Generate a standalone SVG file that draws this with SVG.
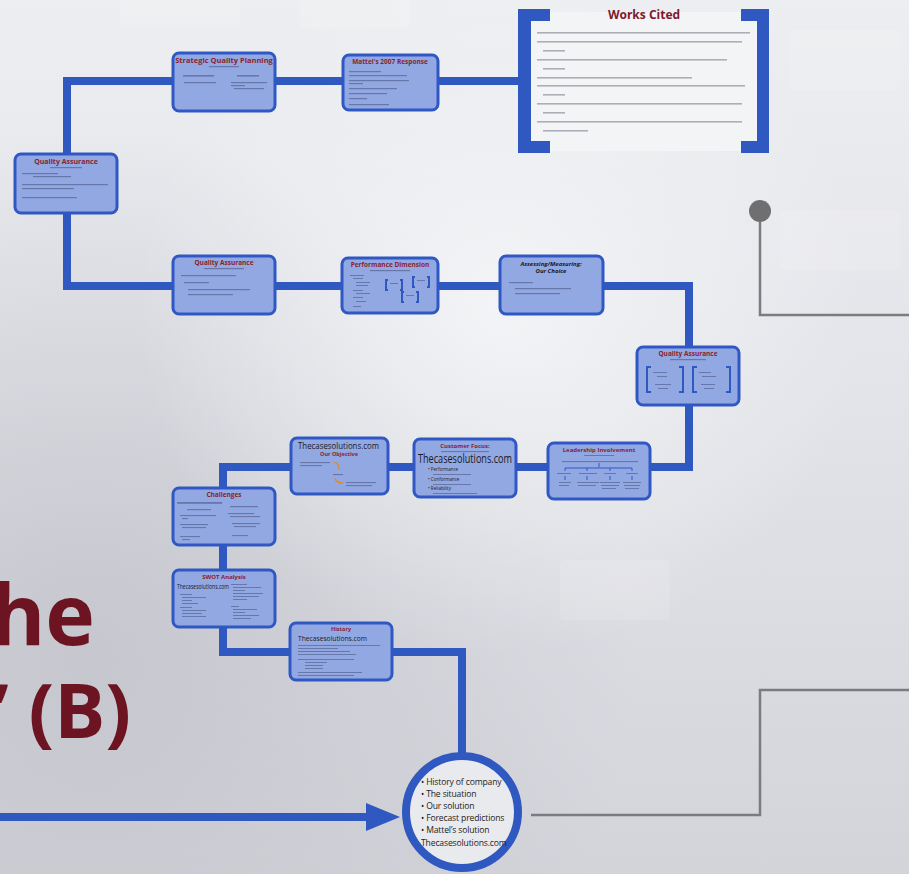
<svg xmlns="http://www.w3.org/2000/svg" width="909" height="874" viewBox="0 0 909 874">
<defs>
<linearGradient id="bg" x1="0" y1="0" x2="0" y2="1">
<stop offset="0" stop-color="#eceef1"/>
<stop offset="0.45" stop-color="#e3e4e9"/>
<stop offset="1" stop-color="#d3d4da"/>
</linearGradient>
<radialGradient id="dark" cx="0.1" cy="0.75" r="0.6">
<stop offset="0" stop-color="#c4c5cc" stop-opacity="0.9"/>
<stop offset="1" stop-color="#c4c5cc" stop-opacity="0"/>
</radialGradient>
<radialGradient id="light" cx="0.55" cy="0.35" r="0.4">
<stop offset="0" stop-color="#f4f5f7" stop-opacity="0.9"/>
<stop offset="1" stop-color="#f4f5f7" stop-opacity="0"/>
</radialGradient>
</defs>
<style>
.node{fill:#92a8e2;stroke:#3058c4;stroke-width:3}
.ttl{font-family:"Open Sans","DejaVu Sans",sans-serif;font-weight:700;fill:#8a1f2e;text-anchor:middle}
.dk{font-family:"Open Sans","DejaVu Sans",sans-serif;fill:#1a1a22}
.b{fill:#3c4670;opacity:0.5}
.path{fill:none;stroke:#2f58c0;stroke-width:8;stroke-linejoin:miter}
.gray{fill:none;stroke:#7c7c80;stroke-width:2.5}
.br{fill:none;stroke:#2f58c0;stroke-width:2}
.big{font-family:"Open Sans","DejaVu Sans",sans-serif;font-weight:700;fill:#6c1422}
.ct{font-family:"Open Sans","DejaVu Sans",sans-serif;font-size:8.6px;letter-spacing:-0.15px;fill:#1c1c24}
.cite{fill:#55586a;opacity:0.45}
</style>
<rect width="909" height="874" fill="url(#bg)"/>
<rect width="909" height="874" fill="url(#dark)"/>
<rect width="909" height="874" fill="url(#light)"/>
<g opacity="0.12" fill="#ffffff">
<rect x="120" y="0" width="120" height="25" rx="4"/>
<rect x="300" y="0" width="110" height="28" rx="4"/>
<rect x="790" y="30" width="110" height="60" rx="4"/>
<rect x="780" y="210" width="120" height="60" rx="4"/>
<rect x="560" y="560" width="110" height="60" rx="4"/>
</g>

<text class="big" x="95" y="645" font-size="84" text-anchor="end">The</text>
<text class="big" x="131" y="738" font-size="76" text-anchor="end">’ (B)</text>

<g id="connectors">
<path class="path" d="M462 756 V652 H223 V467 H689 V286 H67 V81 H524"/>
<line x1="0" y1="817" x2="372" y2="817" stroke="#2f58c0" stroke-width="8"/>
<polygon points="366,803 400,817 366,831" fill="#2f58c0"/>
<path class="gray" d="M531 815 H760 V690 H909"/>
<path class="gray" d="M760 211 V315 H909"/>
<circle cx="760" cy="211" r="11" fill="#6f6f72"/>
</g>

<g id="works-cited">
<rect x="525" y="12" width="238" height="139" fill="#f3f4f6"/>
<path d="M550 9 H518 V153 H550 V141 H531 V21 H550 Z" fill="#2f58c0"/>
<path d="M741 9 H769 V153 H741 V141 H757 V21 H741 Z" fill="#2f58c0"/>
<text x="644" y="19" font-family="Open Sans, DejaVu Sans, sans-serif" font-size="12" font-weight="700" fill="#7d1a2c" text-anchor="middle">Works Cited</text>
<rect class="cite" x="537" y="32" width="213" height="1.6"/>
<rect class="cite" x="537" y="41" width="205" height="1.6"/>
<rect class="cite" x="543" y="50" width="22" height="1.6"/>
<rect class="cite" x="537" y="59" width="190" height="1.6"/>
<rect class="cite" x="543" y="68" width="22" height="1.6"/>
<rect class="cite" x="537" y="77" width="155" height="1.6"/>
<rect class="cite" x="537" y="85" width="208" height="1.6"/>
<rect class="cite" x="543" y="94" width="22" height="1.6"/>
<rect class="cite" x="537" y="103" width="205" height="1.6"/>
<rect class="cite" x="543" y="112" width="22" height="1.6"/>
<rect class="cite" x="537" y="121" width="205" height="1.6"/>
<rect class="cite" x="543" y="130" width="45" height="1.6"/>
</g>

<g id="strategic-quality-planning">
<rect class="node" x="173" y="53" width="102" height="58" rx="6"/>
<text class="ttl" x="224" y="63" font-size="7.5">Strategic Quality Planning</text>
<rect class="b" x="209" y="66" width="30" height="1.2"/>
<rect class="b" x="183" y="75" width="31" height="1.6"/>
<rect class="b" x="237" y="75" width="22" height="1.6"/>
<rect class="b" x="184" y="82" width="32" height="1.2"/>
<rect class="b" x="231" y="82" width="36" height="1.2"/>
<rect class="b" x="231" y="85" width="14" height="1.2"/>
<rect class="b" x="234" y="88" width="30" height="1.2"/>
</g>

<g id="mattel-2007-response">
<rect class="node" x="343" y="55" width="95" height="55" rx="6"/>
<text class="ttl" x="390" y="64" font-size="6.5">Mattel's 2007 Response</text>
<rect class="b" x="349" y="71" width="32" height="1.2"/>
<rect class="b" x="349" y="75" width="58" height="1.2"/>
<rect class="b" x="349" y="80" width="60" height="1.2"/>
<rect class="b" x="349" y="83" width="14" height="1.2"/>
<rect class="b" x="349" y="88" width="48" height="1.2"/>
<rect class="b" x="349" y="93" width="38" height="1.2"/>
<rect class="b" x="349" y="98" width="18" height="1.2"/>
<rect class="b" x="349" y="104" width="40" height="1.2"/>
</g>

<g id="quality-assurance-1">
<rect class="node" x="15" y="154" width="102" height="59" rx="6"/>
<text class="ttl" x="66" y="164" font-size="7">Quality Assurance</text>
<rect class="b" x="50" y="167" width="32" height="1.2"/>
<rect class="b" x="22" y="173" width="36" height="1.2"/>
<rect class="b" x="33" y="176" width="38" height="1.2"/>
<rect class="b" x="22" y="184" width="86" height="1.2"/>
<rect class="b" x="22" y="188" width="52" height="1.2"/>
<rect class="b" x="22" y="197" width="55" height="1.2"/>
</g>

<g id="quality-assurance-2">
<rect class="node" x="173" y="256" width="102" height="58" rx="6"/>
<text class="ttl" x="224" y="265" font-size="6.5">Quality Assurance</text>
<rect class="b" x="204" y="268" width="40" height="1.2"/>
<rect class="b" x="181" y="275" width="55" height="1.2"/>
<rect class="b" x="184" y="282" width="25" height="1.2"/>
<rect class="b" x="188" y="289" width="62" height="1.2"/>
<rect class="b" x="188" y="294" width="45" height="1.2"/>
</g>

<g id="performance-dimension">
<rect class="node" x="342" y="258" width="96" height="55" rx="6"/>
<text class="ttl" x="390" y="267" font-size="6.5">Performance Dimension</text>
<rect class="b" x="370" y="270" width="40" height="1.2"/>
<rect class="b" x="350" y="275" width="14" height="1"/>
<rect class="b" x="353" y="278" width="10" height="1"/>
<rect class="b" x="356" y="282" width="14" height="1"/>
<rect class="b" x="356" y="285" width="12" height="1"/>
<rect class="b" x="353" y="290" width="10" height="1"/>
<rect class="b" x="356" y="293" width="14" height="1"/>
<rect class="b" x="353" y="297" width="10" height="1"/>
<rect class="b" x="356" y="301" width="10" height="1"/>
<rect class="b" x="353" y="306" width="8" height="1"/>
<path class="br" d="M388 280 h-2 v10 h2 M400 280 h2 v10 h-2 M415 277 h-2 v10 h2 M427 277 h2 v10 h-2 M404 292 h-2 v10 h2 M416 292 h2 v10 h-2"/>
<rect class="b" x="390" y="283" width="8" height="1"/>
<rect class="b" x="417" y="280" width="8" height="1"/>
<rect class="b" x="406" y="295" width="8" height="1"/>
</g>

<g id="assessing-measuring">
<rect class="node" x="500" y="256" width="103" height="58" rx="6"/>
<text class="dk" x="551" y="266" font-size="6" font-weight="700" font-style="italic" text-anchor="middle">Assessing/Measuring:</text>
<text class="dk" x="551" y="273" font-size="6" font-weight="700" font-style="italic" text-anchor="middle">Our Choice</text>
<rect class="b" x="509" y="282" width="24" height="1.2"/>
<rect class="b" x="515" y="288" width="56" height="1.2"/>
<rect class="b" x="515" y="293" width="45" height="1.2"/>
</g>

<g id="quality-assurance-3">
<rect class="node" x="637" y="347" width="102" height="58" rx="6"/>
<text class="ttl" x="688" y="356" font-size="6.5">Quality Assurance</text>
<rect class="b" x="670" y="359" width="36" height="1.2"/>
<path class="br" d="M651 367 h-4 v25 h4 M679 367 h4 v25 h-4 M697 367 h-4 v25 h4 M726 367 h4 v25 h-4" stroke-width="2.5"/>
<rect class="b" x="653" y="372" width="14" height="1"/>
<rect class="b" x="657" y="376" width="10" height="1"/>
<rect class="b" x="655" y="384" width="16" height="1"/>
<rect class="b" x="658" y="388" width="10" height="1"/>
<rect class="b" x="699" y="372" width="12" height="1"/>
<rect class="b" x="702" y="376" width="14" height="1"/>
<rect class="b" x="701" y="384" width="14" height="1"/>
<rect class="b" x="704" y="388" width="10" height="1"/>
</g>

<g id="our-objective">
<rect class="node" x="291" y="438" width="97" height="56" rx="6"/>
<text class="dk" x="298" y="449" font-size="8.5" textLength="81" lengthAdjust="spacingAndGlyphs">Thecasesolutions.com</text>
<text class="ttl" x="339" y="456" font-size="5.5" font-weight="400">Our Objective</text>
<rect class="b" x="300" y="462" width="30" height="1.1"/>
<rect class="b" x="300" y="465" width="22" height="1.1"/>
<path d="M334 462 q6 2 5 8" fill="none" stroke="#e0892e" stroke-width="1.3"/>
<rect class="b" x="333" y="474" width="10" height="1.1"/>
<path d="M335 478 q1 5 8 5" fill="none" stroke="#e0892e" stroke-width="1.3"/>
<rect class="b" x="346" y="482" width="30" height="1.1"/>
<rect class="b" x="346" y="485" width="26" height="1.1"/>
</g>

<g id="customer-focus">
<rect class="node" x="414" y="439" width="102" height="58" rx="6"/>
<text class="ttl" x="465" y="448" font-size="6" font-weight="400">Customer Focus:</text>
<rect class="b" x="441" y="451" width="48" height="1.1"/>
<text class="dk" x="418" y="463" font-size="12" textLength="94" lengthAdjust="spacingAndGlyphs">Thecasesolutions.com</text>
<text class="dk" x="428" y="471" font-size="4.5">• Performance</text>
<rect class="b" x="433" y="474" width="38" height="1"/>
<text class="dk" x="428" y="481" font-size="4.5">• Conformance</text>
<rect class="b" x="433" y="484" width="38" height="1"/>
<text class="dk" x="428" y="490" font-size="4.5">• Reliability</text>
<rect class="b" x="433" y="493" width="44" height="1"/>
</g>

<g id="leadership-involvement">
<rect class="node" x="548" y="443" width="102" height="56" rx="6"/>
<text class="ttl" x="599" y="452" font-size="6" font-weight="400">Leadership Involvement</text>
<rect class="b" x="584" y="455" width="30" height="1"/>
<rect class="b" x="562" y="461" width="76" height="1.1"/>
<path d="M599 463 v4 M565 468 h67 M565 468 v3 M587 468 v3 M610 468 v3 M632 468 v3" stroke="#3058c4" stroke-width="1" fill="none"/>
<rect class="b" x="557" y="473" width="14" height="1"/>
<rect class="b" x="579" y="473" width="18" height="1"/>
<rect class="b" x="604" y="473" width="12" height="1"/>
<rect class="b" x="626" y="473" width="12" height="1"/>
<path d="M565 476 v4 M587 476 v4 M610 476 v4 M632 476 v4" stroke="#3058c4" stroke-width="1"/>
<rect class="b" x="559" y="482" width="12" height="1"/>
<rect class="b" x="559" y="485" width="10" height="1"/>
<rect class="b" x="577" y="482" width="22" height="1"/>
<rect class="b" x="578" y="485" width="18" height="1"/>
<rect class="b" x="600" y="482" width="20" height="1"/>
<rect class="b" x="601" y="485" width="18" height="1"/>
<rect class="b" x="602" y="488" width="14" height="1"/>
<rect class="b" x="623" y="482" width="18" height="1"/>
<rect class="b" x="624" y="485" width="16" height="1"/>
<rect class="b" x="625" y="488" width="14" height="1"/>
</g>

<g id="challenges">
<rect class="node" x="173" y="488" width="102" height="57" rx="6"/>
<text class="ttl" x="224" y="497" font-size="6.5" font-weight="400">Challenges</text>
<rect class="b" x="177" y="502" width="45" height="1.8" opacity="0.7"/>
<rect class="b" x="187" y="509" width="24" height="1.2"/>
<rect class="b" x="230" y="506" width="28" height="1.2"/>
<rect class="b" x="180" y="515" width="36" height="1.1"/>
<rect class="b" x="182" y="518" width="6" height="1.1"/>
<rect class="b" x="228" y="513" width="26" height="1.1"/>
<rect class="b" x="230" y="516" width="30" height="1.1"/>
<rect class="b" x="180" y="524" width="28" height="1.1"/>
<rect class="b" x="182" y="527" width="24" height="1.1"/>
<rect class="b" x="232" y="523" width="28" height="1.1"/>
<rect class="b" x="234" y="526" width="22" height="1.1"/>
<rect class="b" x="180" y="536" width="20" height="1.1"/>
<rect class="b" x="182" y="539" width="8" height="1.1"/>
<rect class="b" x="232" y="535" width="16" height="1.1"/>
</g>

<g id="swot-analysis">
<rect class="node" x="173" y="570" width="102" height="57" rx="6"/>
<text class="ttl" x="224" y="579" font-size="6" font-weight="400">SWOT Analysis</text>
<text class="dk" x="177" y="589" font-size="6.5" textLength="52" lengthAdjust="spacingAndGlyphs">Thecasesolutions.com</text>
<rect class="b" x="231" y="584" width="16" height="1"/>
<rect class="b" x="233" y="587" width="28" height="1"/>
<rect class="b" x="233" y="590" width="12" height="1"/>
<rect class="b" x="233" y="593" width="30" height="1"/>
<rect class="b" x="233" y="596" width="26" height="1"/>
<rect class="b" x="233" y="599" width="14" height="1"/>
<rect class="b" x="180" y="594" width="12" height="1"/>
<rect class="b" x="182" y="597" width="24" height="1"/>
<rect class="b" x="182" y="600" width="10" height="1"/>
<rect class="b" x="182" y="603" width="16" height="1"/>
<rect class="b" x="180" y="607" width="12" height="1"/>
<rect class="b" x="182" y="610" width="24" height="1"/>
<rect class="b" x="182" y="613" width="20" height="1"/>
<rect class="b" x="182" y="616" width="24" height="1"/>
<rect class="b" x="231" y="606" width="8" height="1"/>
<rect class="b" x="233" y="609" width="24" height="1"/>
<rect class="b" x="233" y="612" width="12" height="1"/>
<rect class="b" x="233" y="615" width="26" height="1"/>
<rect class="b" x="233" y="618" width="18" height="1"/>
</g>

<g id="history">
<rect class="node" x="290" y="623" width="102" height="57" rx="6"/>
<text class="ttl" x="341" y="631" font-size="5.5" font-weight="400">History</text>
<text class="dk" x="298" y="641" font-size="8" textLength="69" lengthAdjust="spacingAndGlyphs">Thecasesolutions.com</text>
<rect class="b" x="298" y="645" width="82" height="1"/>
<rect class="b" x="298" y="648" width="40" height="1"/>
<rect class="b" x="298" y="651" width="52" height="1"/>
<rect class="b" x="298" y="654" width="58" height="1"/>
<rect class="b" x="298" y="659" width="56" height="1"/>
<rect class="b" x="305" y="662" width="22" height="1"/>
<rect class="b" x="305" y="665" width="18" height="1"/>
<rect class="b" x="305" y="668" width="18" height="1"/>
<rect class="b" x="298" y="672" width="64" height="1"/>
<rect class="b" x="298" y="675" width="56" height="1"/>
</g>

<g id="summary-circle">
<circle cx="462" cy="812" r="56" fill="#e9eaee" stroke="#2f58c0" stroke-width="8"/>
<text class="ct" x="421" y="785">• History of company</text>
<text class="ct" x="421" y="797">• The situation</text>
<text class="ct" x="421" y="809">• Our solution</text>
<text class="ct" x="421" y="821">• Forecast predictions</text>
<text class="ct" x="421" y="833">• Mattel’s solution</text>
<text class="ct" x="421" y="846">Thecasesolutions.com</text>
</g>
</svg>
